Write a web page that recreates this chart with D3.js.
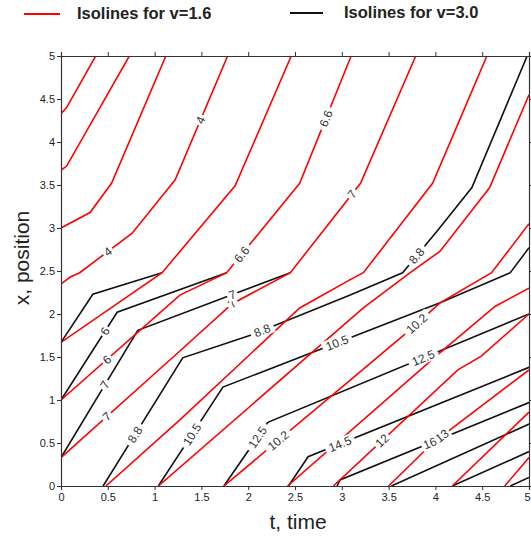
<!DOCTYPE html>
<html>
<head>
<meta charset="utf-8">
<script src="https://cdn.jsdelivr.net/npm/d3@7"></script>
<style>
  body { margin: 0; background: #fff; }
  text { font-family: Arial, "Liberation Sans", sans-serif; }
</style>
</head>
<body>
<div id="my_dataviz"></div>
<script>
// tick values for both axes
const xTicks = [0, 0.5, 1, 1.5, 2, 2.5, 3, 3.5, 4, 4.5, 5];
const yTicks = [0, 0.5, 1, 1.5, 2, 2.5, 3, 3.5, 4, 4.5, 5];

// red isolines (v=1.6), points are [t, x]
const red1 = [[0, 4.33], [0.06, 4.40], [0.37, 5]];
const red2 = [[0, 3.67], [0.06, 3.72], [0.73, 5]];
const red3 = [[0, 3.0], [0.31, 3.18], [0.54, 3.52], [1.12, 5]];
const red4 = [[0, 2.35], [0.1, 2.43], [0.2, 2.48], [0.76, 2.94], [1.16, 3.48], [1.22, 3.56], [1.78, 5]];
const red5 = [[0, 1.67], [1.08, 2.48], [1.86, 3.49], [2.46, 5]];
const red6 = [[0, 1.0], [1.27, 2.22], [1.77, 2.48], [2.55, 3.52], [3.1, 5]];
const red7 = [[0, 0.33], [1.27, 1.57], [1.83, 2.12], [2.45, 2.48], [3.2, 3.52], [3.79, 5]];
const red8 = [[0.48, 0], [1.27, 0.77], [2.55, 2.07], [3.09, 2.40], [3.23, 2.48], [3.97, 3.52], [4.55, 5]];
const red9 = [[1.04, 0], [3.23, 2.07], [3.73, 2.48], [4.05, 2.73], [4.58, 3.47], [5.0, 4.55]];
const red10 = [[1.74, 0], [3.09, 1.23], [3.70, 1.79], [4.05, 2.13], [4.60, 2.48], [5.0, 3.05]];
const red11 = [[2.42, 0], [4.05, 1.55], [4.64, 2.09], [5.0, 2.3]];
const red12 = [[2.91, 0], [4.24, 1.35], [4.49, 1.51], [5.0, 2.0]];
const red13 = [[3.5, 0], [3.97, 0.5], [5.0, 1.35]];
const red14 = [[4.18, 0], [5.0, 0.86]];
const red15 = [[4.74, 0], [5.0, 0.33]];

// black isolines (v=3.0)
const black1 = [[0, 1.67], [0.34, 2.23], [1.08, 2.48]];
const black2 = [[0, 1.0], [0.6, 2.02], [1.77, 2.48]];
const black3 = [[0, 0.33], [0.82, 1.81], [2.45, 2.48]];
const black4 = [[0.45, 0], [1.30, 1.49], [2.04, 1.76], [3.09, 2.22], [3.65, 2.48], [4.03, 2.98], [4.39, 3.47], [4.98, 5]];
const black5 = [[1.04, 0], [1.73, 1.15], [4.05, 2.13], [4.80, 2.48], [5.0, 2.77]];
const black6 = [[1.74, 0], [2.21, 0.74], [5.0, 2.0]];
const black7 = [[2.43, 0], [2.64, 0.34], [5.0, 1.38]];
const black8 = [[2.95, 0], [2.98, 0.07], [5.0, 0.97]];
const black9 = [[3.53, 0], [5.0, 0.72]];
const black10 = [[4.18, 0], [5.0, 0.4]];
const black11 = [[4.80, 0], [5.0, 0.1]];

const redLines = [red1, red2, red3, red4, red5, red6, red7, red8, red9, red10, red11, red12, red13, red14, red15];
const blackLines = [black1, black2, black3, black4, black5, black6, black7, black8, black9, black10, black11];

// contour labels: [line, t where label sits, text]
const redLabels = [
  [red4, 0.5, "4"], [red4, 1.49, "4"],
  [red6, 0.49, "6"], [red6, 1.93, "6.6"], [red6, 2.83, "6.6"],
  [red7, 0.49, "7"], [red7, 1.83, "7"], [red7, 3.11, "7"],
  [red10, 2.32, "10.2"], [red10, 3.8, "10.2"],
  [red12, 3.43, "12"], [red13, 4.07, "13"]
];
const blackLabels = [
  [black2, 0.47, "6"],
  [black3, 0.47, "7"], [black3, 1.83, "7"],
  [black4, 0.79, "8.8"], [black4, 2.15, "8.8"], [black4, 3.8, "8.8"],
  [black5, 1.4, "10.5"], [black5, 2.95, "10.5"],
  [black6, 2.1, "12.5"], [black6, 3.87, "12.5"],
  [black7, 2.98, "14.5"],
  [black8, 3.94, "16"]
];

// set the dimensions and margins of the graph
const margin = { top: 56, right: 2, bottom: 51, left: 61 },
    width = 531 - margin.left - margin.right,
    height = 537 - margin.top - margin.bottom;

const root = d3.select("#my_dataviz")
    .append("svg")
    .attr("width", 531)
    .attr("height", 537);

const svg = root.append("g")
    .attr("transform", `translate(${margin.left}, ${margin.top})`);

const x = d3.scaleLinear().domain([0, 5]).range([0, width]);
const y = d3.scaleLinear().domain([0, 5]).range([height, 0]);

svg.append("clipPath")
    .attr("id", "clip")
    .append("rect")
    .attr("width", width)
    .attr("height", height);

const line = d3.line()
    .x(function (d) { return x(d[0]); })
    .y(function (d) { return y(d[1]); });

const plot = svg.append("g").attr("clip-path", "url(#clip)");

plot.append("g")
    .selectAll("path")
    .data(blackLines)
    .join("path")
    .attr("d", line)
    .attr("fill", "none")
    .attr("stroke", "#111")
    .attr("stroke-width", 1.6);

plot.append("g")
    .selectAll("path")
    .data(redLines)
    .join("path")
    .attr("d", line)
    .attr("fill", "none")
    .attr("stroke", "#f00")
    .attr("stroke-width", 1.6);

// place a label on a line at a given t
function labelPos(pts, t) {
    for (let i = 0; i < pts.length - 1; i++) {
        const a = pts[i], b = pts[i + 1];
        if (t >= a[0] && t <= b[0]) {
            const f = (t - a[0]) / (b[0] - a[0]);
            const px = x(t), py = y(a[1] + f * (b[1] - a[1]));
            const ang = Math.atan2(y(b[1]) - y(a[1]), x(b[0]) - x(a[0])) * 180 / Math.PI;
            return { px: px, py: py, ang: ang };
        }
    }
    return { px: 0, py: 0, ang: 0 };
}

const labels = plot.append("g")
    .selectAll("g")
    .data(redLabels.concat(blackLabels))
    .join("g")
    .attr("transform", function (d) {
        const p = labelPos(d[0], d[1]);
        return `translate(${p.px},${p.py}) rotate(${p.ang})`;
    });

labels.append("rect")
    .attr("x", function (d) { return -d[2].length * 3.4 - 2; })
    .attr("y", -6)
    .attr("width", function (d) { return d[2].length * 6.8 + 4; })
    .attr("height", 12)
    .attr("fill", "#fff");

labels.append("text")
    .attr("text-anchor", "middle")
    .attr("dy", "0.35em")
    .attr("font-size", 12)
    .attr("fill", "#333")
    .text(function (d) { return d[2]; });

// axes
const tickFmt = d3.format("");
const xAxis = svg.append("g")
    .attr("transform", `translate(0, ${height})`)
    .call(d3.axisBottom(x).tickValues(xTicks).tickSize(4).tickPadding(3).tickFormat(tickFmt));
svg.append("g")
    .call(d3.axisLeft(y).tickValues(yTicks).tickSize(4).tickPadding(2).tickFormat(tickFmt));
svg.append("g")
    .call(d3.axisTop(x).tickValues(xTicks).tickSize(4).tickFormat(""));
svg.append("g")
    .attr("transform", `translate(${width}, 0)`)
    .call(d3.axisRight(y).tickValues(yTicks).tickSize(4).tickFormat(""));

svg.selectAll(".domain").attr("stroke", "#333").attr("stroke-width", 1.2);
svg.selectAll(".tick line").attr("stroke", "#333");
svg.selectAll(".tick text").attr("font-size", 11).attr("fill", "#222");
// keep the last tick label inside the page
xAxis.selectAll(".tick text").filter(function (d) { return d === 5; }).attr("text-anchor", "end").attr("dx", "1");

// axis titles
root.append("text")
    .attr("x", margin.left + width / 2 + 3)
    .attr("y", 529)
    .attr("text-anchor", "middle")
    .attr("font-size", 21)
    .attr("fill", "#222")
    .text("t, time");

root.append("text")
    .attr("transform", `translate(29, ${margin.top + height / 2 - 13}) rotate(-90)`)
    .attr("text-anchor", "middle")
    .attr("font-size", 21)
    .attr("fill", "#222")
    .text("x, position");

// legend
root.append("line")
    .attr("x1", 24).attr("x2", 60).attr("y1", 14).attr("y2", 14)
    .attr("stroke", "#f00").attr("stroke-width", 2);
root.append("text")
    .attr("x", 77).attr("y", 19)
    .attr("font-size", 16.5).attr("font-weight", "bold").attr("fill", "#222")
    .text("Isolines for v=1.6");
root.append("line")
    .attr("x1", 290).attr("x2", 323).attr("y1", 13).attr("y2", 13)
    .attr("stroke", "#111").attr("stroke-width", 2);
root.append("text")
    .attr("x", 344).attr("y", 18)
    .attr("font-size", 16.5).attr("font-weight", "bold").attr("fill", "#222")
    .text("Isolines for v=3.0");
</script>
</body>
</html>
